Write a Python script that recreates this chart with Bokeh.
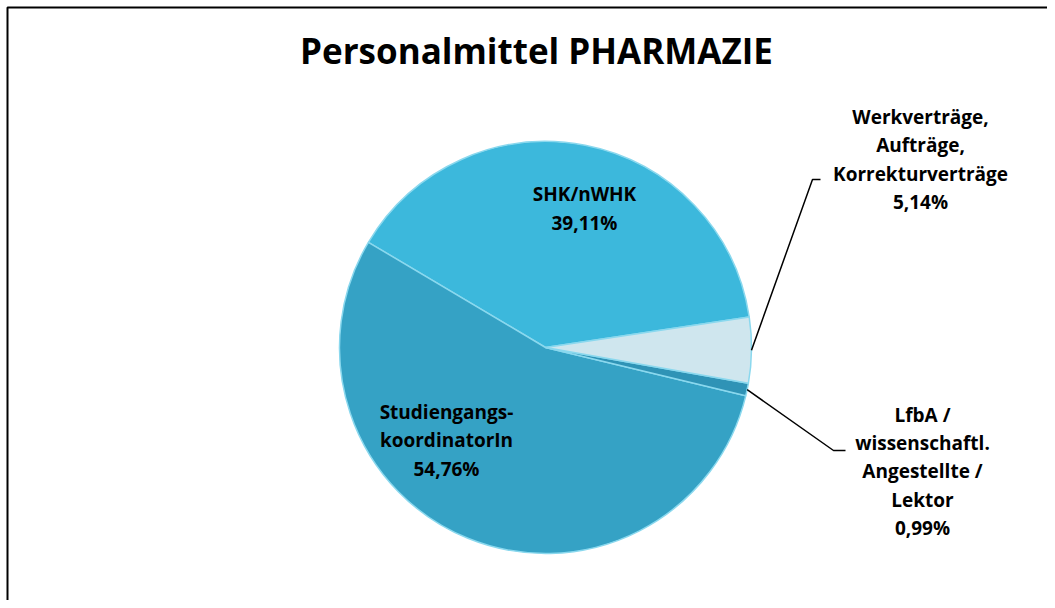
import numpy as np
from bokeh.plotting import figure
from bokeh.models import ColumnDataSource, Range1d
from bokeh.core.properties import value
from bokeh.embed import file_html
from bokeh.resources import INLINE

# ---- data ----
title_text = "Personalmittel PHARMAZIE"
categories = ["SHK/nWHK", "Studiengangs-\nkoordinatorIn", "LfbA /\nwissenschaftl.\nAngestellte /\nLektor",
              "Werkverträge,\nAufträge,\nKorrekturverträge"]
shares = [39.11, 54.76, 0.99, 5.14]
pct_labels = ["39,11%", "54,76%", "0,99%", "5,14%"]
colors = ["#3CB8DC", "#35A2C5", "#2F93B6", "#CFE6EE"]

W, H = 1047, 600
FONT = "Open Sans"

p = figure(width=W, height=H, output_backend="svg", toolbar_location=None,
           x_range=Range1d(0, W), y_range=Range1d(0, H), min_border=0)
p.axis.visible = False
p.grid.visible = False
p.outline_line_color = None
p.background_fill_color = "white"

# frame lines (left and top visible in reference)
p.line([7, 7, W], [0, H - 7, H - 7], line_color="black", line_width=2)

# pie
cx, cy, r = 545, 253, 206
start_deg = 8.5
ang = np.array(shares) / 100.0 * 2 * np.pi
starts = np.deg2rad(start_deg) + np.concatenate([[0], np.cumsum(ang)[:-1]])
ends = starts + ang
src = ColumnDataSource(dict(start=starts, end=ends, color=colors))
p.wedge(x=cx, y=cy, radius=r, start_angle="start", end_angle="end",
        fill_color="color", line_color="#8AD8EE", line_width=1.5, source=src)

# labels
label_text = [f"{c}\n{v}" for c, v in zip(categories, pct_labels)]
lx = [584, 446, 922, 920]
ly = [392, 160, 129, 441]
p.text(x=lx, y=ly, text=label_text, text_align="center", text_baseline="middle",
       text_font=value(FONT), text_font_style="bold", text_font_size="19px",
       text_line_height=1.08, text_color="black")

# leader lines for outside labels
mids = (starts + ends) / 2
for i, (ex, ey, dx) in [(3, (812, 421, 8)), (2, (833, 150, 12))]:
    sx0 = cx + r * np.cos(mids[i])
    sy0 = cy + r * np.sin(mids[i])
    p.line([sx0, ex, ex + dx], [sy0, ey, ey], line_color="black", line_width=1.5)

# title
p.text(x=[536], y=[550], text=[title_text], text_align="center", text_baseline="middle",
       text_font=value(FONT), text_font_style="bold", text_font_size="35px", text_color="black")

open("out.html", "w").write(file_html(p, INLINE))
